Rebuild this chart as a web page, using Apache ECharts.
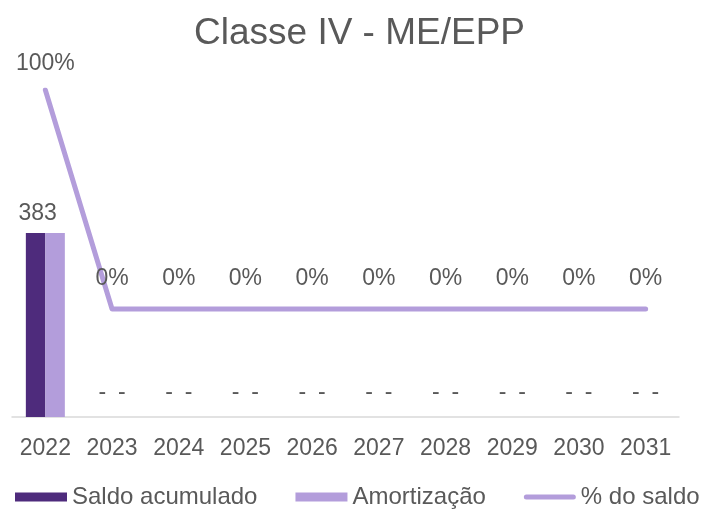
<!DOCTYPE html>
<html>
<head>
<meta charset="utf-8">
<script src="https://cdn.jsdelivr.net/npm/echarts@6/dist/echarts.min.js"></script>
<style>
html,body{margin:0;padding:0;background:#fff;}
#c{width:704px;height:509px;}
</style>
</head>
<body>
<div id="c"></div>
<script>
const categories = ['2022','2023','2024','2025','2026','2027','2028','2029','2030','2031'];
const saldoAcumulado = [383,0,0,0,0,0,0,0,0,0];
const amortizacao = [383,0,0,0,0,0,0,0,0,0];
const pctSaldo = [1,0,0,0,0,0,0,0,0,0];

const FONT = 'Liberation Sans, Arial, sans-serif';
const GRAY = '#595959';
const DARK = '#4e2b7c';
const LIGHT = '#b39ddb';

const chart = echarts.init(document.getElementById('c'));

const barLabel = {
  show: true, position: 'top', distance: 12, color: GRAY,
  fontFamily: FONT, fontSize: 23, lineHeight: 24,
  formatter: p => p.value === 0 ? '-' : String(p.value)
};

const saldoData = saldoAcumulado.map(v => v === 0 ? v : {value: v, label: {distance: 7, offset: [2, 0]}});
const amortData = amortizacao.map(v => v === 0 ? v : {value: v, label: {show: false}});
const pctData = pctSaldo.map((v, i) => ({value: v, label: {distance: i === 0 ? 14 : 18}}));

const lineIcon = 'path://M0,0L0.01,0M2.5,2H49.5A2.5,2.5,0,0,1,49.5,7H2.5A2.5,2.5,0,0,1,2.5,2ZM0,9L0.01,9';

chart.setOption({
  backgroundColor: '#fff',
  animation: false,
  title: {
    text: 'Classe IV - ME/EPP', left: 189, top: 10,
    textStyle: {fontFamily: FONT, fontSize: 37, fontWeight: 'normal', color: GRAY}
  },
  legend: {
    bottom: 0, left: 15, width: 700, padding: 0, itemWidth: 52, itemHeight: 9, itemGap: 38,
    textStyle: {fontFamily: FONT, fontSize: 24, color: GRAY},
    data: [
      {name: 'Saldo acumulado', icon: 'rect'},
      {name: 'Amortização', icon: 'rect'},
      {name: '% do saldo', icon: lineIcon, itemStyle: {color: LIGHT}}
    ]
  },
  grid: {left: 12, right: 25, top: 90, bottom: 92, containLabel: false},
  xAxis: {
    type: 'category', data: categories,
    axisLine: {show: true, lineStyle: {color: '#d9d9d9', width: 1.5}},
    axisTick: {show: false},
    axisLabel: {color: GRAY, fontFamily: FONT, fontSize: 23, margin: 20}
  },
  yAxis: [
    {type: 'value', min: 0, max: 680.7, show: false, splitLine: {show: false}},
    {type: 'value', min: -0.4932, max: 1, show: false, splitLine: {show: false}}
  ],
  series: [
    {
      name: 'Saldo acumulado', type: 'bar', yAxisIndex: 0, data: saldoData,
      barWidth: 19.5, barGap: '0%', itemStyle: {color: DARK}, label: barLabel
    },
    {
      name: 'Amortização', type: 'bar', yAxisIndex: 0, data: amortData,
      barWidth: 19.5, barGap: '0%', itemStyle: {color: LIGHT}, label: barLabel
    },
    {
      name: '% do saldo', type: 'line', yAxisIndex: 1, data: pctData,
      symbol: 'circle', symbolSize: 0.1, showSymbol: true,
      lineStyle: {color: LIGHT, width: 5, cap: 'round', join: 'round'},
      itemStyle: {color: LIGHT},
      label: {
        show: true, position: 'top', color: GRAY, fontFamily: FONT, fontSize: 23, lineHeight: 24,
        formatter: p => Math.round(p.value * 100) + '%'
      }
    }
  ]
});
</script>
</body>
</html>
